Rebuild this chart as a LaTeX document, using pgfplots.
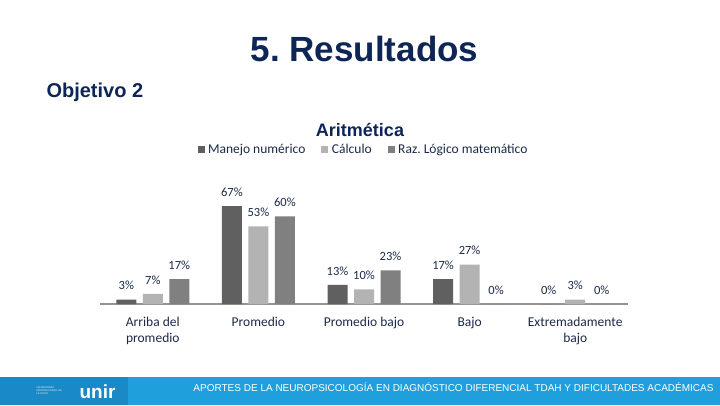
\documentclass[border=0pt]{standalone}
\usepackage{pgfplots}
\pgfplotsset{compat=1.18}
\usepackage{fontspec}
\setmainfont{Carlito}
\newfontfamily\arial{Liberation Sans}
\definecolor{navy}{HTML}{0E2656}
\definecolor{txt}{HTML}{1C2A48}
\definecolor{cA}{HTML}{606060}
\definecolor{cB}{HTML}{B3B3B3}
\definecolor{cC}{HTML}{808080}
\definecolor{footA}{HTML}{1A8AC6}
\definecolor{footB}{HTML}{1FA0DC}
\begin{document}
\frenchspacing
\begin{tikzpicture}
\path[fill=white] (0pt,0pt) rectangle (720pt,-405pt);
% footer
\fill[footB] (0pt,-377pt) rectangle (720pt,-405pt);
\fill[footA] (0pt,-377pt) rectangle (128pt,-405pt);
\node[text=white,font=\arial\bfseries\fontsize{19}{19}\selectfont,anchor=west] at (76pt,-392pt) {unir};
\node[text=white!85!footA,font=\arial\fontsize{2.6}{3}\selectfont,align=left,anchor=west] at (33pt,-391pt) {UNIVERSIDAD\\INTERNACIONAL DE\\LA RIOJA};
\node[text=white,font=\arial\fontsize{10}{10}\selectfont] at (453.5pt,-387.5pt) {APORTES DE LA NEUROPSICOLOGÍA EN DIAGNÓSTICO DIFERENCIAL TDAH Y DIFICULTADES ACADÉMICAS};
% titles
\node[text=navy,font=\arial\bfseries\fontsize{35}{35}\selectfont] at (364.5pt,-49pt) {5.\ Resultados};
\node[text=navy,font=\arial\bfseries\fontsize{20}{20}\selectfont,anchor=west] at (43pt,-92pt) {Objetivo 2};
\node[text=navy,font=\arial\bfseries\fontsize{18}{18}\selectfont] at (360pt,-129.5pt) {Aritmética};
\begin{axis}[
  at={(100pt,-304pt)}, anchor=south west,
  scale only axis, width=528pt, height=117pt,
  ymin=0, ymax=80, xmin=-0.5, xmax=4.5,
  ybar=6.5pt, bar width=20pt,
  axis x line*=bottom, axis y line=none,
  axis line style={draw=black!42, line width=1.8pt},
  xtick={0,1,2,3,4}, major tick length=0pt,
  xticklabels={{Arriba del\\promedio},Promedio,Promedio bajo,Bajo,{Extremadamente\\bajo}},
  xticklabel style={text=txt,font=\fontsize{13.5}{16}\selectfont,align=center,yshift=-10pt},
  /pgf/number format/assume math mode=true,
  nodes near coords={\pgfmathprintnumber{\pgfplotspointmeta}\%},
  every node near coord/.append style={text=txt,font=\fontsize{12.5}{13}\selectfont,yshift=6pt},
  legend style={at={(0.499,1.32)},anchor=center,draw=none,fill=none,
    font=\fontsize{13.5}{13.5}\selectfont,text=txt,legend columns=3,
    /tikz/every odd column/.append style={column sep=1.5pt},
    /tikz/every even column/.append style={column sep=14pt}},
  legend image code/.code={\fill[#1] (0pt,-3pt) rectangle (7pt,4pt);},
]
\addplot[fill=cA,draw=none] coordinates {(0,3) (1,67) (2,13) (3,17) (4,0)};
\addplot[fill=cB,draw=none] coordinates {(0,7) (1,53) (2,10) (3,27) (4,3)};
\addplot[fill=cC,draw=none] coordinates {(0,17) (1,60) (2,23) (3,0) (4,0)};
\legend{Manejo numérico,Cálculo,Raz. Lógico matemático}
\end{axis}
\end{tikzpicture}
\end{document}
